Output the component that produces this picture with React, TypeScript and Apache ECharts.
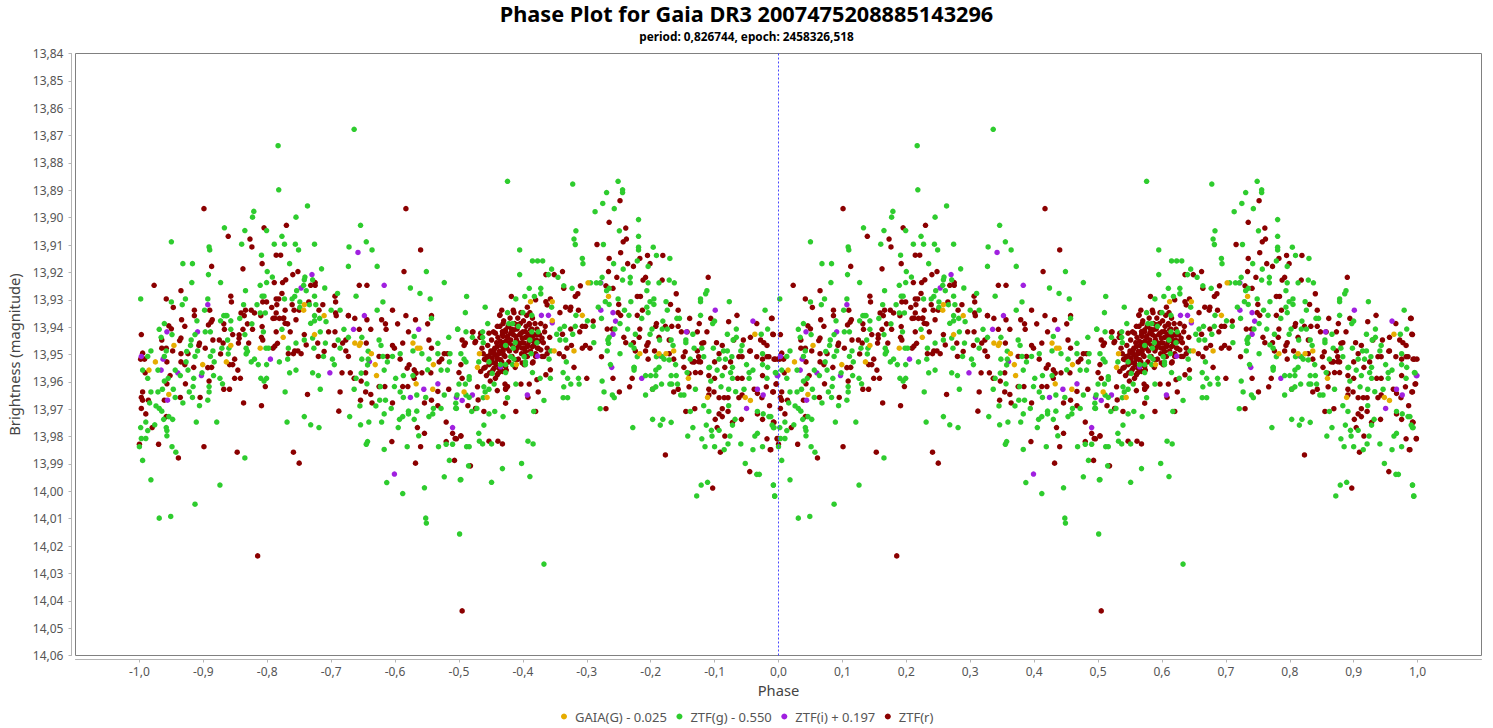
import React, { useEffect, useRef } from "react";
import * as echarts from "echarts";

const titleText = "Phase Plot for Gaia DR3 2007475208885143296";
const subtitleText = "period: 0,826744, epoch: 2458326,518";
const seriesNames = ["GAIA(G) - 0.025", "ZTF(g) - 0.550", "ZTF(i) + 0.197", "ZTF(r)"];
const xTicks = [-1, -0.9, -0.8, -0.7, -0.6, -0.5, -0.4, -0.3, -0.2, -0.1, 0, 0.1, 0.2, 0.3, 0.4, 0.5, 0.6, 0.7, 0.8, 0.9, 1];

const gaiaG: number[][] = [
[.258,13.9318],[.257,13.9338],[.289,13.9358],[.054,13.9467],[.025,13.9527],[.015,13.9557],[.046,13.9646],[.099,13.9537],[.136,13.9527],[.143,13.9467],[.189,13.9477],[.225,13.9437],[.274,13.9427],[.337,13.9458],[.344,13.9467],[.346,13.9458],[.363,13.9497],[.369,13.9537],[.371,13.9577],[.428,13.9458],[.435,13.9477],[.439,13.9477],[.460,13.9537],[.433,13.9607],[.459,13.9627],
[.702,13.9238],[.734,13.9288],[.612,13.9307],[.646,13.9307],[.693,13.9357],[.963,13.9426],[.783,13.9497],[.646,13.9376],[.590,13.9537],[.532,13.9497],[.529,13.9547],[.649,13.9487],[.680,13.9487],[.813,13.9497],[.824,13.9497],[.836,13.9487],[.859,13.9587],[.889,13.9657],[.948,13.9657],[.956,13.9668],[.508,13.9637],[.544,13.9657]
];

const ztfG: number[][] = [
[.336,13.8677],[.217,13.8737],[.218,13.8898],[.263,13.8957],[.179,13.8977],[.177,13.8998],[.245,13.8998],[.133,13.9037],[.165,13.9047],[.199,13.9047],[.346,13.9028],[.223,13.9068],[.050,13.9088],[.109,13.9107],[.110,13.9118],[.160,13.9097],[.211,13.9097],[.227,13.9097],[.244,13.9097],[.274,13.9097],[.249,13.9118],[.328,13.9107],[.355,13.9088],[.364,13.9118],[.191,13.9137],[.068,13.9168],[.083,13.9168],[.235,13.9168],[.327,13.9178],[.372,13.9178],[.108,13.9208],[.200,13.9197],[.285,13.9187],[.449,13.9197],[.082,13.9237],[.127,13.9237],[.208,13.9217],[.259,13.9217],[.258,13.9227],[.271,13.9227],[.199,13.9237],[.189,13.9247],[.257,13.9247],[.477,13.9237],[.166,13.9267],[.246,13.9267],[.261,13.9267],[.290,13.9257],[.424,13.9257],[.439,13.9277],[.310,13.9277],[.339,13.9287],[.002,13.9297],[.050,13.9308],[.072,13.9297],[.107,13.9297],[.192,13.9287],[.195,13.9287],[.243,13.9288],[.239,13.9297],[.274,13.9287],[.227,13.9297],[.455,13.9297],[.067,13.9318],[.163,13.9318],[.184,13.9318],[.251,13.9308],[.266,13.9318],[.276,13.9318],[.381,13.9308],[.102,13.9338],[.132,13.9358],[.137,13.9358],[.157,13.9368],[.189,13.9348],[.197,13.9348],[.251,13.9328],[.300,13.9338],[.314,13.9338],[.372,13.9338],[.274,13.9358],[.282,13.9368],[.457,13.9368],
[.039,13.9387],[.031,13.9408],[.051,13.9427],[.034,13.9437],[.090,13.9377],[.127,13.9377],[.143,13.9377],[.135,13.9358],[.176,13.9388],[.143,13.9408],[.165,13.9427],[.103,13.9417],[.111,13.9417],[.087,13.9427],[.081,13.9447],[.080,13.9467],[.138,13.9447],[.129,13.9477],[.140,13.9477],[.167,13.9477],[.169,13.9489],[.167,13.9498],[.198,13.9477],[.202,13.9477],[.194,13.9417],[.223,13.9408],[.245,13.9458],[.258,13.9447],[.273,13.9477],[.233,13.9477],[.271,13.9440],[.268,13.9386],[.274,13.9377],[.292,13.9380],[.283,13.9417],[.291,13.9458],[.311,13.9447],[.314,13.9477],[.320,13.9408],[.327,13.9437],[.348,13.9437],[.375,13.9447],[.378,13.9467],[.484,13.9437],[.498,13.9408],[.430,13.9434],[.428,13.9487],[.442,13.9497],[.467,13.9497],[.486,13.9497],[.467,13.9459],
[.018,13.9487],[.013,13.9507],[.042,13.9487],[.039,13.9507],[.074,13.9489],[.091,13.9487],[.115,13.9487],[.111,13.9507],[.087,13.9507],[.073,13.9527],[.117,13.9527],[.139,13.9498],[.175,13.9527],[.180,13.9517],[.186,13.9537],[.199,13.9537],[.219,13.9527],[.232,13.9517],[.288,13.9507],[.302,13.9517],[.305,13.9537],[.348,13.9517],[.358,13.9488],[.358,13.9517],[.357,13.9538],[.381,13.9507],[.396,13.9507],[.408,13.9497],[.388,13.9527],[.453,13.9517],[.485,13.9527],[.451,13.9556],[.472,13.9557],[.482,13.9557],
[.996,13.9567],[.005,13.9557],[.013,13.9587],[.029,13.9557],[.045,13.9587],[.039,13.9597],[.056,13.9557],[.064,13.9577],[.076,13.9557],[.085,13.9587],[.098,13.9567],[.116,13.9577],[.126,13.9587],[.130,13.9607],[.109,13.9617],[.109,13.9637],[.053,13.9627],[.036,13.9627],[.018,13.9637],[.029,13.9637],[.078,13.9637],[.084,13.9617],[.056,13.9657],[.083,13.9657],[.107,13.9667],[.068,13.9677],[.094,13.9687],[.016,13.9677],
[.190,13.9587],[.195,13.9597],[.199,13.9587],[.235,13.9567],[.245,13.9557],[.271,13.9567],[.280,13.9577],[.228,13.9637],[.283,13.9627],[.258,13.9727],[.231,13.9747],[.268,13.9757],[.281,13.9767],[.329,13.9727],[.346,13.9757],[.359,13.9747],[.379,13.9747],[.405,13.9767],[.347,13.9568],[.339,13.9587],[.356,13.9607],[.336,13.9627],[.377,13.9617],[.399,13.9617],[.401,13.9587],[.383,13.9557],[.413,13.9577],[.428,13.9577],[.408,13.9637],[.434,13.9648],[.413,13.9657],[.448,13.9657],[.477,13.9648],[.497,13.9648],[.495,13.9678],[.495,13.9696],[.472,13.9697],[.460,13.9697],[.459,13.9717],[.453,13.9727],[.434,13.9707],[.421,13.9707],[.421,13.9717],[.412,13.9727],[.407,13.9737],[.430,13.9737],[.394,13.9697],[.383,13.9717],[.370,13.9688],[.376,13.9667],[.385,13.9667],[.345,13.9688],[.357,13.9818],[.355,13.9828],[.383,13.9847],[.419,13.9837],[.437,13.9797],[.468,13.9837],[.480,13.9828],[.490,13.9828],[.485,13.9887],[.477,13.9947],[.387,13.9968],[.446,13.9987],[.412,14.0008],[.502,13.9958],
[.026,13.9688],[.031,13.9697],[.035,13.9707],[.038,13.9737],[.046,13.9727],[.052,13.9737],[.089,13.9747],[.121,13.9747],[.024,13.9757],[.010,13.9747],[.013,13.9778],[.002,13.9767],[.992,13.9767],[.042,13.9767],[.043,13.9778],[.043,13.9797],[.010,13.9807],[.003,13.9807],[.000,13.9837],[.051,13.9837],[.057,13.9857],[.165,13.9878],[.005,13.9887],[.018,13.9958],[.992,13.9977],[.994,14.0018],[.126,13.9977],[.087,14.0047],[.985,13.9727],[.031,14.0098],[.049,14.0092],[.501,14.0156],[.633,14.0266],[.448,14.0098],[.449,14.0116],
[.576,13.8867],[.678,13.8877],[.749,13.8867],[.731,13.8908],[.756,13.8898],[.756,13.8908],[.725,13.8948],[.743,13.8967],[.713,13.8978],[.781,13.9007],[.751,13.9048],[.683,13.9048],[.781,13.9068],[.680,13.9078],[.682,13.9098],[.726,13.9098],[.781,13.9108],[.781,13.9118],[.804,13.9108],[.595,13.9118],[.809,13.9138],[.830,13.9149],[.693,13.9149],[.615,13.9158],[.623,13.9158],[.631,13.9158],[.694,13.9168],[.742,13.9168],[.779,13.9158],[.796,13.9178],[.757,13.9188],[.645,13.9188],[.595,13.9208],[.640,13.9208],[.655,13.9218],[.724,13.9218],[.768,13.9218],[.756,13.9228],[.768,13.9238],[.796,13.9238],[.813,13.9238],[.829,13.9228],[.837,13.9238],[.706,13.9238],[.715,13.9238],[.721,13.9238],[.664,13.9249],[.677,13.9258],[.610,13.9258],[.628,13.9258],[.735,13.9258],[.731,13.9267],[.628,13.9278],[.618,13.9288],[.603,13.9288],[.589,13.9297],[.512,13.9288],[.794,13.9267],[.888,13.9267],[.886,13.9278],[.878,13.9297],[.878,13.9307],[.749,13.9297],[.769,13.9307],[.729,13.9307],[.735,13.9317],[.799,13.9307],[.805,13.9297],[.805,13.9317],[.824,13.9307],[.923,13.9307],[.645,13.9327],[.541,13.9327],[.510,13.9347],[.576,13.9347],[.600,13.9347],[.718,13.9327],[.759,13.9338],[.794,13.9327],[.796,13.9347],[.826,13.9338],[.979,13.9338],[.878,13.9357],[.683,13.9357],[.701,13.9377],[.723,13.9368],[.766,13.9357],[.786,13.9368],[.841,13.9368],[.845,13.9368],[.545,13.9387],[.578,13.9387],[.584,13.9387],[.614,13.9357],[.593,13.9397],[.665,13.9397],[.682,13.9397],[.710,13.9397],[.752,13.9387],[.819,13.9378],[.897,13.9387],[.900,13.9378],[.498,13.9407],[.511,13.9417],[.537,13.9417],[.614,13.9417],[.624,13.9417],[.658,13.9407],[.653,13.9426],[.744,13.9407],[.764,13.9407],[.802,13.9407],[.818,13.9407],[.826,13.9407],[.934,13.9407],[.983,13.9407],[.920,13.9426],[.866,13.9426],[.776,13.9426],[.735,13.9437],[.537,13.9437],[.521,13.9437],[.611,13.9447],[.799,13.9426],[.814,13.9447],[.832,13.9447],[.855,13.9447],[.934,13.9437],[.929,13.9447],[.973,13.9426],[.678,13.9426],[.667,13.9447],[.658,13.9447],[.733,13.9447],[.734,13.9459],[.711,13.9457],[.769,13.9465],[.774,13.9477],[.622,13.9457],[.588,13.9457],[.573,13.9467],[.585,13.9477],[.855,13.9457],[.835,13.9467],[.943,13.9467],[.538,13.9457],[.732,13.9487],[.752,13.9497],[.503,13.9497],[.644,13.9487],[.613,13.9497],[.602,13.9508],[.581,13.9508],[.508,13.9517],[.511,13.9527],[.531,13.9527],[.547,13.9527],[.586,13.9517],[.604,13.9527],[.641,13.9517],[.668,13.9527],[.779,13.9508],[.809,13.9508],[.818,13.9508],[.821,13.9517],[.829,13.9520],[.839,13.9537],[.813,13.9547],[.880,13.9477],[.868,13.9477],[.898,13.9477],[.914,13.9487],[.920,13.9487],[.941,13.9487],[.975,13.9497],[.883,13.9508],[.862,13.9517],[.907,13.9517],[.917,13.9517],[.927,13.9508],[.950,13.9537],[.975,13.9537],[.983,13.9547],[.892,13.9547],[.928,13.9547],[.774,13.9547],[.737,13.9537],[.565,13.9537],[.573,13.9537],[.584,13.9537],[.604,13.9537],
[.500,13.9608],[.510,13.9608],[.496,13.9697],[.516,13.9581],[.516,13.9591],[.511,13.9648],[.516,13.9657],[.539,13.9618],[.547,13.9627],[.555,13.9608],[.541,13.9637],[.538,13.9658],[.589,13.9608],[.552,13.9569],[.573,13.9566],[.615,13.9566],[.627,13.9587],[.643,13.9587],[.663,13.9566],[.670,13.9587],[.675,13.9608],[.687,13.9587],[.688,13.9608],[.664,13.9618],[.663,13.9658],[.670,13.9658],[.633,13.9668],[.576,13.9658],[.556,13.9708],[.547,13.9717],[.520,13.9708],[.528,13.9697],[.569,13.9727],[.539,13.9758],[.531,13.9788],[.512,13.9837],[.516,13.9837],[.532,13.9817],[.537,13.9827],[.551,13.9827],[.608,13.9817],[.616,13.9827],[.617,13.9708],[.515,13.9907],[.568,13.9917],[.598,13.9898],[.611,13.9946],[.503,13.9957],[.551,13.9967],
[.724,13.9597],[.727,13.9637],[.740,13.9648],[.743,13.9658],[.721,13.9698],[.792,13.9648],[.772,13.9767],[.803,13.9737],[.819,13.9737],[.815,13.9758],[.832,13.9748],[.774,13.9548],[.774,13.9557],[.792,13.9577],[.800,13.9577],[.808,13.9577],[.808,13.9557],[.817,13.9608],[.803,13.9627],[.808,13.9618],[.830,13.9608],[.833,13.9608],[.842,13.9608],[.832,13.9577],[.840,13.9577],[.857,13.9566],[.870,13.9627],[.847,13.9648],[.852,13.9648],[.883,13.9687],[.891,13.9708],[.862,13.9708],[.887,13.9758],[.866,13.9767],[.858,13.9798],[.880,13.9808],[.895,13.9777],[.896,13.9798],[.907,13.9777],[.924,13.9798],[.885,13.9837],[.900,13.9837],[.921,13.9827],[.915,13.9848],[.941,13.9827],[.960,13.9848],[.975,13.9837],[.948,13.9898],[.966,13.9938],[.970,13.9938],[.889,13.9967],[.879,13.9977],[.872,14.0017],[.992,13.9977],[.994,14.0017],
[.891,13.9548],[.904,13.9557],[.894,13.9597],[.912,13.9577],[.910,13.9618],[.922,13.9627],[.928,13.9587],[.925,13.9566],[.933,13.9636],[.946,13.9627],[.922,13.9687],[.928,13.9758],[.932,13.9737],[.954,13.9587],[.954,13.9566],[.960,13.9557],[.982,13.9587],[.995,13.9566],[.967,13.9708],[.976,13.9717],[.988,13.9727],[.990,13.9758],[.993,13.9767],[.967,13.9788],[.963,13.9798]
];

const ztfI: number[][] = [
[.342,13.9127],[.270,13.9208],[.253,13.9257],[.383,13.9247],[.107,13.9318],[.352,13.9358],[.043,13.9417],[.091,13.9417],[.037,13.9517],[.034,13.9557],[.060,13.9567],[.097,13.9577],[.998,13.9577],[.044,13.9667],[.298,13.9567],[.205,13.9517],[.335,13.9408],[.437,13.9408],[.424,13.9657],[.360,13.9526],[.445,13.9627],[.467,13.9607],[.490,13.9767],[.399,13.9937],[.003,13.9507],
[.629,13.9357],[.640,13.9357],[.646,13.9384],[.623,13.9506],[.565,13.9545],[.722,13.9338],[.741,13.9347],[.745,13.9378],[.741,13.9426],[.722,13.9238],[.901,13.9338],[.856,13.9417],[.960,13.9378],[.739,13.9547],[.816,13.9506],[.786,13.9587],[.967,13.9627],[.976,13.9648],[.950,13.9697],[.999,13.9577],[.607,13.9648],[.521,13.9648],[.505,13.9668],[.496,13.9657]
];

const ztfR: number[][] = [
[.101,13.8967],[.417,13.8967],[.195,13.9037],[.230,13.9028],[.139,13.9068],[.173,13.9078],[.176,13.9107],[.440,13.9118],[.214,13.9137],[.221,13.9137],[.192,13.9168],[.113,13.9178],[.162,13.9187],[.248,13.9197],[.240,13.9208],[.414,13.9197],[.229,13.9227],[.224,13.9237],[.211,13.9237],[.275,13.9237],[.268,13.9247],[.275,13.9247],[.023,13.9247],[.344,13.9247],[.356,13.9247],[.065,13.9267],[.223,13.9277],[.143,13.9287],[.306,13.9287],[.042,13.9297],[.214,13.9297],[.218,13.9297],[.265,13.9308],[.144,13.9308],[.193,13.9308],[.199,13.9308],[.307,13.9308],[.215,13.9318],[.239,13.9318],[.287,13.9318],[.053,13.9328],[.207,13.9328],[.086,13.9338],[.110,13.9338],[.166,13.9338],[.175,13.9338],[.228,13.9338],[.242,13.9338],[.250,13.9338],[.281,13.9338],[.396,13.9338],[.159,13.9348],[.180,13.9348],[.214,13.9348],[.307,13.9348],[.086,13.9358],[.164,13.9358],[.190,13.9358],[.308,13.9358],[.327,13.9358],[.417,13.9358],[.457,13.9358],[.990,13.9368],[.066,13.9373],[.114,13.9373],[.209,13.9368],[.219,13.9368],[.225,13.9368],[.337,13.9368],[.356,13.9373],[.432,13.9373],[.379,13.9373],[.245,13.9373],
[.071,13.9397],[.046,13.9395],[.050,13.9406],[.992,13.9427],[.003,13.9427],[.035,13.9447],[.065,13.9440],[.063,13.9449],[.112,13.9382],[.108,13.9392],[.132,13.9388],[.133,13.9408],[.162,13.9408],[.169,13.9388],[.177,13.9408],[.192,13.9398],[.214,13.9417],[.236,13.9417],[.228,13.9386],[.232,13.9388],[.212,13.9367],[.226,13.9367],[.258,13.9427],[.261,13.9465],[.279,13.9458],[.296,13.9417],[.306,13.9417],[.327,13.9358],[.344,13.9408],[.362,13.9408],[.385,13.9388],[.386,13.9408],[.404,13.9388],[.421,13.9417],[.451,13.9388],[.453,13.9447],[.457,13.9477],[.412,13.9458],
[.115,13.9447],[.125,13.9447],[.131,13.9458],[.146,13.9427],[.156,13.9428],[.156,13.9441],[.155,13.9458],[.171,13.9458],[.191,13.9437],[.193,13.9447],[.209,13.9477],[.212,13.9469],[.216,13.9459],[.233,13.9497],[.243,13.9487],[.248,13.9487],[.253,13.9497],[.241,13.9497],[.280,13.9507],[.289,13.9489],[.305,13.9467],[.318,13.9458],[.323,13.9447],[.323,13.9487],[.327,13.9507],[.355,13.9458],[.396,13.9467],[.399,13.9477],[.375,13.9507],[.388,13.9507],[.408,13.9517],[.477,13.9497],[.482,13.9497],[.473,13.9517],[.469,13.9527],
[.035,13.9477],[.042,13.9477],[.052,13.9487],[.065,13.9497],[.076,13.9497],[.094,13.9458],[.093,13.9467],[.103,13.9477],[.005,13.9495],[.993,13.9517],[.002,13.9517],[.008,13.9517],[.043,13.9527],[.065,13.9527],[.071,13.9537],[.085,13.9547],[.107,13.9548],[.113,13.9547],[.127,13.9498],[.149,13.9517],[.141,13.9537],[.146,13.9537],[.154,13.9557],[.048,13.9577],[.009,13.9567],[.997,13.9607],
[.317,13.9567],[.330,13.9567],[.336,13.9587],[.354,13.9567],[.347,13.9597],[.375,13.9617],[.384,13.9617],[.412,13.9617],[.420,13.9617],[.422,13.9538],[.419,13.9550],[.430,13.9556],[.433,13.9568],[.430,13.9587],[.442,13.9567],[.456,13.9567],[.467,13.9635],[.484,13.9627],
[.043,13.9607],[.072,13.9607],[.109,13.9597],[.149,13.9587],[.158,13.9587],[.132,13.9627],[.141,13.9627],[.197,13.9617],[.314,13.9637],[.354,13.9637],[.362,13.9646],[.263,13.9646],[.346,13.9667],[.364,13.9677],[.396,13.9677],[.446,13.9677],[.457,13.9667],[.467,13.9687],[.992,13.9637],[.005,13.9637],[.003,13.9657],[.005,13.9667],[.014,13.9667],[.039,13.9667],[.064,13.9657],[.095,13.9657],[.163,13.9677],[.191,13.9687],[.312,13.9707],[.003,13.9697],[.010,13.9717],[.042,13.9727],[.435,13.9767],[.480,13.9747],[.490,13.9788],[.446,13.9788],[.494,13.9807],[.503,13.9797],[.020,13.9767],[.992,13.9747],[.998,13.9807],[.000,13.9828],[.030,13.9828],[.101,13.9837],[.153,13.9857],[.241,13.9857],[.395,13.9818],[.440,13.9837],[.480,13.9818],[.061,13.9878],[.250,13.9897],[.432,13.9897],[.493,13.9887],[.988,13.9848],[.185,14.0236],[.505,14.0437],
[.752,13.8938],[.735,13.9017],[.761,13.9038],[.762,13.9078],[.757,13.9088],[.716,13.9098],[.753,13.9128],[.735,13.9149],[.795,13.9138],[.819,13.9138],[.783,13.9149],[.764,13.9168],[.773,13.9178],[.799,13.9168],[.734,13.9197],[.662,13.9197],[.636,13.9208],[.649,13.9208],[.747,13.9218],[.792,13.9218],[.788,13.9228],[.818,13.9228],[.890,13.9218],[.730,13.9249],[.690,13.9249],[.664,13.9258],[.741,13.9258],[.686,13.9278],[.682,13.9288],[.779,13.9288],[.784,13.9288],[.840,13.9278],[.582,13.9288],[.643,13.9297],[.620,13.9300],[.750,13.9317],[.831,13.9317],[.636,13.9307],[.638,13.9319],[.607,13.9327],[.667,13.9327],[.675,13.9327],[.567,13.9338],[.585,13.9338],[.687,13.9338],[.658,13.9347],[.674,13.9338],[.787,13.9338],[.843,13.9338],[.564,13.9357],[.749,13.9347],[.779,13.9357],[.753,13.9357],[.935,13.9357],[.989,13.9368],[.861,13.9368],[.894,13.9368],[.922,13.9380],[.966,13.9387],[.710,13.9378],[.560,13.9397],[.569,13.9387],[.635,13.9397],[.675,13.9407],[.693,13.9397],[.698,13.9397],[.808,13.9397],[.809,13.9387],[.823,13.9397],[.833,13.9397],[.843,13.9397],[.876,13.9387],[.732,13.9407],[.740,13.9407],[.783,13.9407],[.848,13.9417],[.857,13.9417],[.873,13.9417],[.888,13.9417],[.689,13.9417],[.662,13.9426],[.991,13.9426],[.956,13.9437],[.945,13.9447],[.972,13.9447],[.977,13.9457],[.758,13.9437],[.782,13.9437],[.813,13.9437],[.829,13.9447],[.883,13.9457],[.912,13.9467],[.903,13.9457],[.930,13.9447],[.522,13.9417],[.505,13.9447],[.508,13.9467],[.525,13.9457],[.676,13.9467],[.698,13.9467],[.693,13.9477],[.705,13.9477],[.669,13.9477],[.761,13.9457],[.773,13.9457],[.794,13.9467],[.796,13.9457],[.776,13.9487],[.792,13.9487],[.806,13.9487],[.829,13.9497],[.854,13.9490],[.851,13.9508],[.907,13.9497],[.956,13.9487],[.982,13.9467],[.985,13.9508],[.966,13.9508],[.938,13.9508],[.943,13.9508],[.975,13.9517],[.875,13.9508],[.868,13.9527],[.878,13.9527],[.880,13.9459],[.873,13.9487],[.657,13.9497],[.664,13.9508],[.638,13.9497],[.723,13.9508],[.796,13.9517],[.836,13.9517],[.995,13.9517],[.999,13.9517],[.916,13.9547],[.900,13.9527],[.925,13.9527],[.680,13.9547],[.503,13.9537],[.852,13.9547],[.865,13.9527],
[.500,13.9566],[.505,13.9587],[.529,13.9618],[.530,13.9666],[.514,13.9687],[.526,13.9697],[.539,13.9708],[.560,13.9632],[.573,13.9627],[.572,13.9608],[.573,13.9678],[.597,13.9608],[.610,13.9608],[.608,13.9657],[.624,13.9637],[.589,13.9708],[.620,13.9708],[.503,13.9798],[.496,13.9808],[.547,13.9817],[.561,13.9817],[.568,13.9827],[.518,13.9907],[.700,13.9587],[.741,13.9587],[.771,13.9587],[.767,13.9618],[.751,13.9637],[.730,13.9698],[.803,13.9627],[.823,13.9867],
[.836,13.9637],[.843,13.9627],[.860,13.9618],[.855,13.9708],[.869,13.9698],[.891,13.9627],[.899,13.9637],[.891,13.9648],[.907,13.9658],[.915,13.9658],[.921,13.9658],[.938,13.9658],[.943,13.9648],[.962,13.9627],[.967,13.9642],[.974,13.9658],[.981,13.9618],[.996,13.9608],[.991,13.9637],[.986,13.9687],[.912,13.9698],[.921,13.9708],[.901,13.9737],[.907,13.9717],[.912,13.9727],[.942,13.9737],[.928,13.9748],[.967,13.9717],[.975,13.9737],[.993,13.9748],[.904,13.9767],[.916,13.9798],[.982,13.9808],[.998,13.9808],[.987,13.9848],[.909,13.9857],[.955,13.9928],[.897,13.9988],
[.860,13.9569],[.870,13.9566],[.878,13.9566],[.868,13.9526],[.875,13.9526],[.891,13.9577],[.900,13.9587],[.936,13.9587],[.943,13.9587],[.955,13.9488],[.975,13.9577],[.982,13.9508],
[.533,13.9437],[.536,13.9477],[.538,13.9497],[.540,13.9517],[.541,13.9547],[.543,13.9577],[.545,13.9467],[.546,13.9507],[.547,13.9537],[.548,13.9567],[.549,13.9597],[.550,13.9487],[.551,13.9447],[.552,13.9527],[.553,13.9557],[.554,13.9417],[.555,13.9497],[.556,13.9477],[.557,13.9587],[.558,13.9537],[.559,13.9457],[.560,13.9517],[.561,13.9437],[.562,13.9567],[.563,13.9497],[.564,13.9397],[.565,13.9547],[.566,13.9467],[.567,13.9527],[.568,13.9427],[.569,13.9487],[.570,13.9377],[.571,13.9457],[.572,13.9507],[.573,13.9417],[.574,13.9557],[.575,13.9477],[.576,13.9437],[.577,13.9397],[.578,13.9527],[.579,13.9487],[.580,13.9367],[.581,13.9447],[.582,13.9407],[.583,13.9507],[.584,13.9467],[.585,13.9427],[.586,13.9347],[.587,13.9387],[.588,13.9547],[.589,13.9487],[.590,13.9447],[.591,13.9407],[.592,13.9367],[.593,13.9517],[.594,13.9467],[.595,13.9427],[.596,13.9387],[.597,13.9347],[.598,13.9497],[.599,13.9457],[.600,13.9417],[.601,13.9377],[.602,13.9537],[.603,13.9477],[.604,13.9437],[.605,13.9397],[.606,13.9357],[.607,13.9507],[.608,13.9467],[.609,13.9427],[.610,13.9387],[.611,13.9347],[.612,13.9487],[.613,13.9447],[.614,13.9407],[.615,13.9367],[.616,13.9527],[.617,13.9467],[.618,13.9427],[.619,13.9387],[.620,13.9497],[.621,13.9447],[.622,13.9407],[.624,13.9477],[.626,13.9427],[.628,13.9387],[.630,13.9507],[.632,13.9457],[.634,13.9417],[.638,13.9477],[.642,13.9437],
[.568,13.9416],[.573,13.9410],[.569,13.9434],[.576,13.9434],[.565,13.9452],[.573,13.9452],[.578,13.9458],[.560,13.9471],[.568,13.9471],[.555,13.9483],[.563,13.9489],[.550,13.9495],[.557,13.9501],[.544,13.9507],[.552,13.9513],[.560,13.9513],[.542,13.9519],[.550,13.9531],[.557,13.9531],[.565,13.9519],[.570,13.9501],[.555,13.9550],[.563,13.9550],[.568,13.9562],[.560,13.9574],[.573,13.9544],
[.597,13.9422],[.604,13.9416],[.612,13.9410],[.599,13.9440],[.607,13.9434],[.615,13.9434],[.623,13.9428],[.594,13.9458],[.602,13.9458],[.610,13.9452],[.617,13.9452],[.625,13.9452],[.630,13.9440],[.591,13.9477],[.599,13.9477],[.607,13.9471],[.615,13.9471],[.623,13.9477],[.604,13.9489],[.589,13.9434],[.586,13.9410],[.591,13.9391],[.581,13.9422],[.610,13.9391],[.628,13.9483],[.620,13.9507],[.633,13.9507],[.615,13.9531],[.599,13.9531],[.589,13.9519],[.539,13.9550],[.534,13.9562],[.526,13.9452],[.510,13.9458],[.521,13.9418],[.534,13.9422],[.557,13.9422],[.547,13.9422],[.564,13.9355],[.576,13.9617],[.573,13.9625],[.622,13.9592],[.636,13.9574],[.643,13.9556]
];

// A phase plot shows every observation twice, one cycle apart.
const bothCycles = (pts: number[][]) => pts.flatMap(([p, m]) => [[p, m], [p - 1, m]]);

const mk = (name: string, color: string, data: number[][], z: number, extra: any = {}) => ({
  name, type: "scatter", data: bothCycles(data), symbol: "circle", symbolSize: 5.5, z, silent: true,
  itemStyle: { color, opacity: 1 }, ...extra,
});

const FONT = "'Noto Sans', sans-serif";

export default function App() {
  const ref = useRef<HTMLDivElement>(null);
  useEffect(() => {
    document.body.style.margin = "0";
    const chart = echarts.init(ref.current!, undefined, { renderer: "svg" });
    chart.setOption({
      animation: false,
      backgroundColor: "#ffffff",
      title: [
        { text: titleText, left: 741.5, top: -3, textAlign: "center", textStyle: { fontFamily: FONT, fontSize: 21.7, fontWeight: "bold", color: "#000" } },
        { text: subtitleText, left: 741.5, top: 25, textAlign: "center", textStyle: { fontFamily: FONT, fontSize: 11.8, fontWeight: "bold", color: "#000" } },
      ],
      grid: { left: 75.5, top: 53.5, width: 1406, height: 602, show: true, borderColor: "#808080", borderWidth: 1, backgroundColor: "#fff", outerBoundsMode: "none" },
      legend: {
        bottom: 0, left: 556, icon: "circle", itemWidth: 6, itemHeight: 6, itemGap: 9.5,
        data: seriesNames, textStyle: { fontFamily: FONT, fontSize: 13, color: "#555", padding: [0, 0, 0, 3] },
      },
      xAxis: {
        type: "value", min: -1.1, max: 1.1, position: "bottom", offset: 4, name: "Phase", nameLocation: "middle", nameGap: 22,
        nameTextStyle: { fontFamily: FONT, fontSize: 14.7, color: "#444" },
        axisLine: { onZero: false, lineStyle: { color: "#b5b5b5" } },
        axisTick: { length: 3, customValues: xTicks, lineStyle: { color: "#b5b5b5" } },
        axisLabel: { customValues: xTicks, fontFamily: FONT, fontSize: 12, color: "#555", margin: 6, formatter: (v: number) => v.toFixed(1).replace(".", ",") },
        splitLine: { show: false },
      },
      yAxis: {
        type: "value", min: 13.84, max: 14.06, interval: 0.01, inverse: true, offset: 4, name: "Brightness (magnitude)", nameLocation: "middle", nameGap: 40,
        nameTextStyle: { fontFamily: FONT, fontSize: 14.7, color: "#444" },
        axisLine: { show: true, onZero: false, lineStyle: { color: "#b5b5b5" } },
        axisTick: { show: true, length: 3, lineStyle: { color: "#b5b5b5" } },
        axisLabel: { fontFamily: FONT, fontSize: 12, color: "#555", margin: 8, formatter: (v: number) => v.toFixed(2).replace(".", ",") },
        splitLine: { show: false },
      },
      series: [
        mk(seriesNames[0], "#e6ac00", gaiaG, 5),
        mk(seriesNames[1], "#2ecc2e", ztfG, 4, {
          markLine: { silent: true, symbol: "none", label: { show: false }, lineStyle: { color: "#4848ff", type: [2, 2], width: 1, opacity: 1 }, data: [{ xAxis: 0, lineStyle: { color: "#4848ff", type: [2, 2], width: 1 } }] },
        }),
        mk(seriesNames[2], "#a020e0", ztfI, 3),
        mk(seriesNames[3], "#8b0000", ztfR, 2),
      ],
    });
    return () => chart.dispose();
  }, []);
  return <div ref={ref} style={{ position: "fixed", left: 0, top: 0, width: 1493, height: 728, overflow: "hidden" }} />;
}
